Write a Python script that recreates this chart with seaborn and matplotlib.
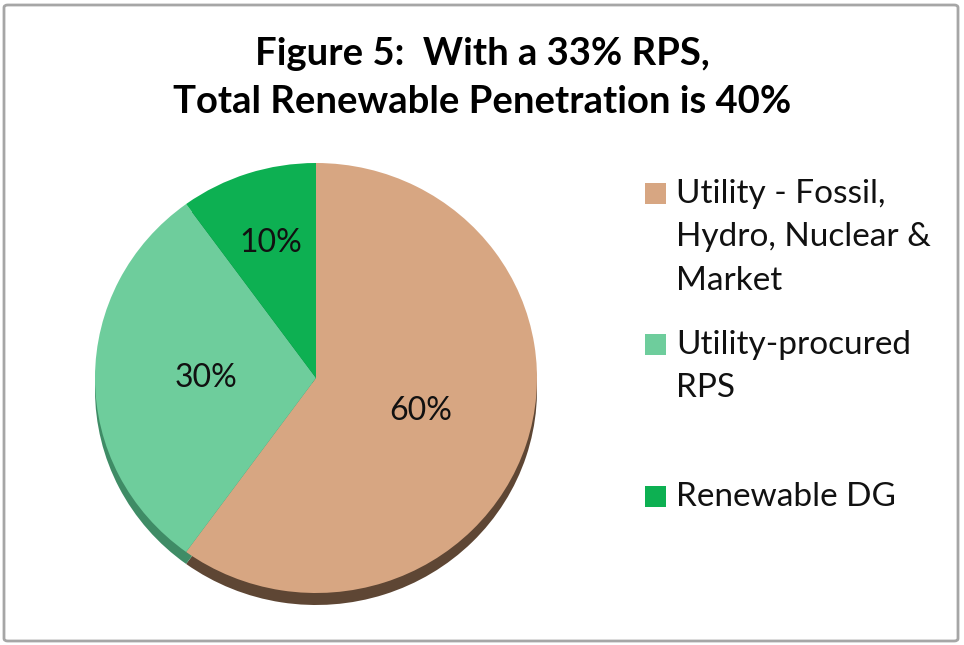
import matplotlib.pyplot as plt
import seaborn as sns
from matplotlib.patches import FancyBboxPatch, Rectangle

# data
labels = ["Utility - Fossil,\nHydro, Nuclear &\nMarket", "Utility-procured\nRPS", "Renewable DG"]
shares = [60, 30, 10]
top_colors = ["#D7A682", "#6ECD9C", "#0DB052"]
side_colors = ["#5E4634", "#3F8C66", "#087A3A"]

sns.set_theme(style="white")
plt.rcParams['font.family'] = ['Lato', 'DejaVu Sans']

W, H = 964, 645
fig = plt.figure(figsize=(W / 100, H / 100), dpi=100)

# outer chart border
fig.patches.append(FancyBboxPatch((4 / W, 4 / H), 954 / W, 636 / H,
                                  boxstyle="round,pad=0,rounding_size=0.004",
                                  transform=fig.transFigure, fill=False,
                                  edgecolor="#a6a6a6", linewidth=2))

fig.text(0.5, 1 - 78 / H, "Figure 5:  With a 33% RPS,\nTotal Renewable Penetration is 40%",
         ha="center", va="center", fontsize=27.5, fontweight="bold", linespacing=1.5,
         color="black")

# pie axes: center (316, 378) px, rx 221 px, ry 215 px
cx, cy, rx, ry = 316, 378, 221, 215
ax = fig.add_axes([(cx - rx) / W, (H - cy - 1.1 * ry) / H, 2 * rx / W, 2.1 * ry / H])

# side (3D edge)
ax.pie(shares, colors=side_colors, startangle=90, counterclock=False,
       center=(0, -12 / ry), radius=1, wedgeprops=dict(linewidth=0))
wedges, texts, autotexts = ax.pie(
    shares, colors=top_colors, startangle=90, counterclock=False,
    autopct="%1.0f%%", pctdistance=0.5, radius=1,
    wedgeprops=dict(linewidth=0),
    textprops=dict(fontsize=23, color="#111111"))
# small slice label sits further out
x, y = autotexts[2].get_position()
autotexts[2].set_position((x * 1.32, y * 1.32))

ax.set_aspect("auto")
ax.set_xlim(-1, 1)
ax.set_ylim(-1.1, 1)
ax.axis("off")

# legend
tops = [183, 334, 486]
for lab, col, t in zip(labels, top_colors, tops):
    fig.patches.append(Rectangle((645 / W, 1 - (t + 21) / H), 21 / W, 21 / H,
                                 transform=fig.transFigure, facecolor=col,
                                 edgecolor="none"))
    fig.text(676 / W, 1 - (t - 4) / H, lab, ha="left", va="top", fontsize=24,
             linespacing=1.56, color="#111111")

fig.savefig("out.png", dpi=100)
